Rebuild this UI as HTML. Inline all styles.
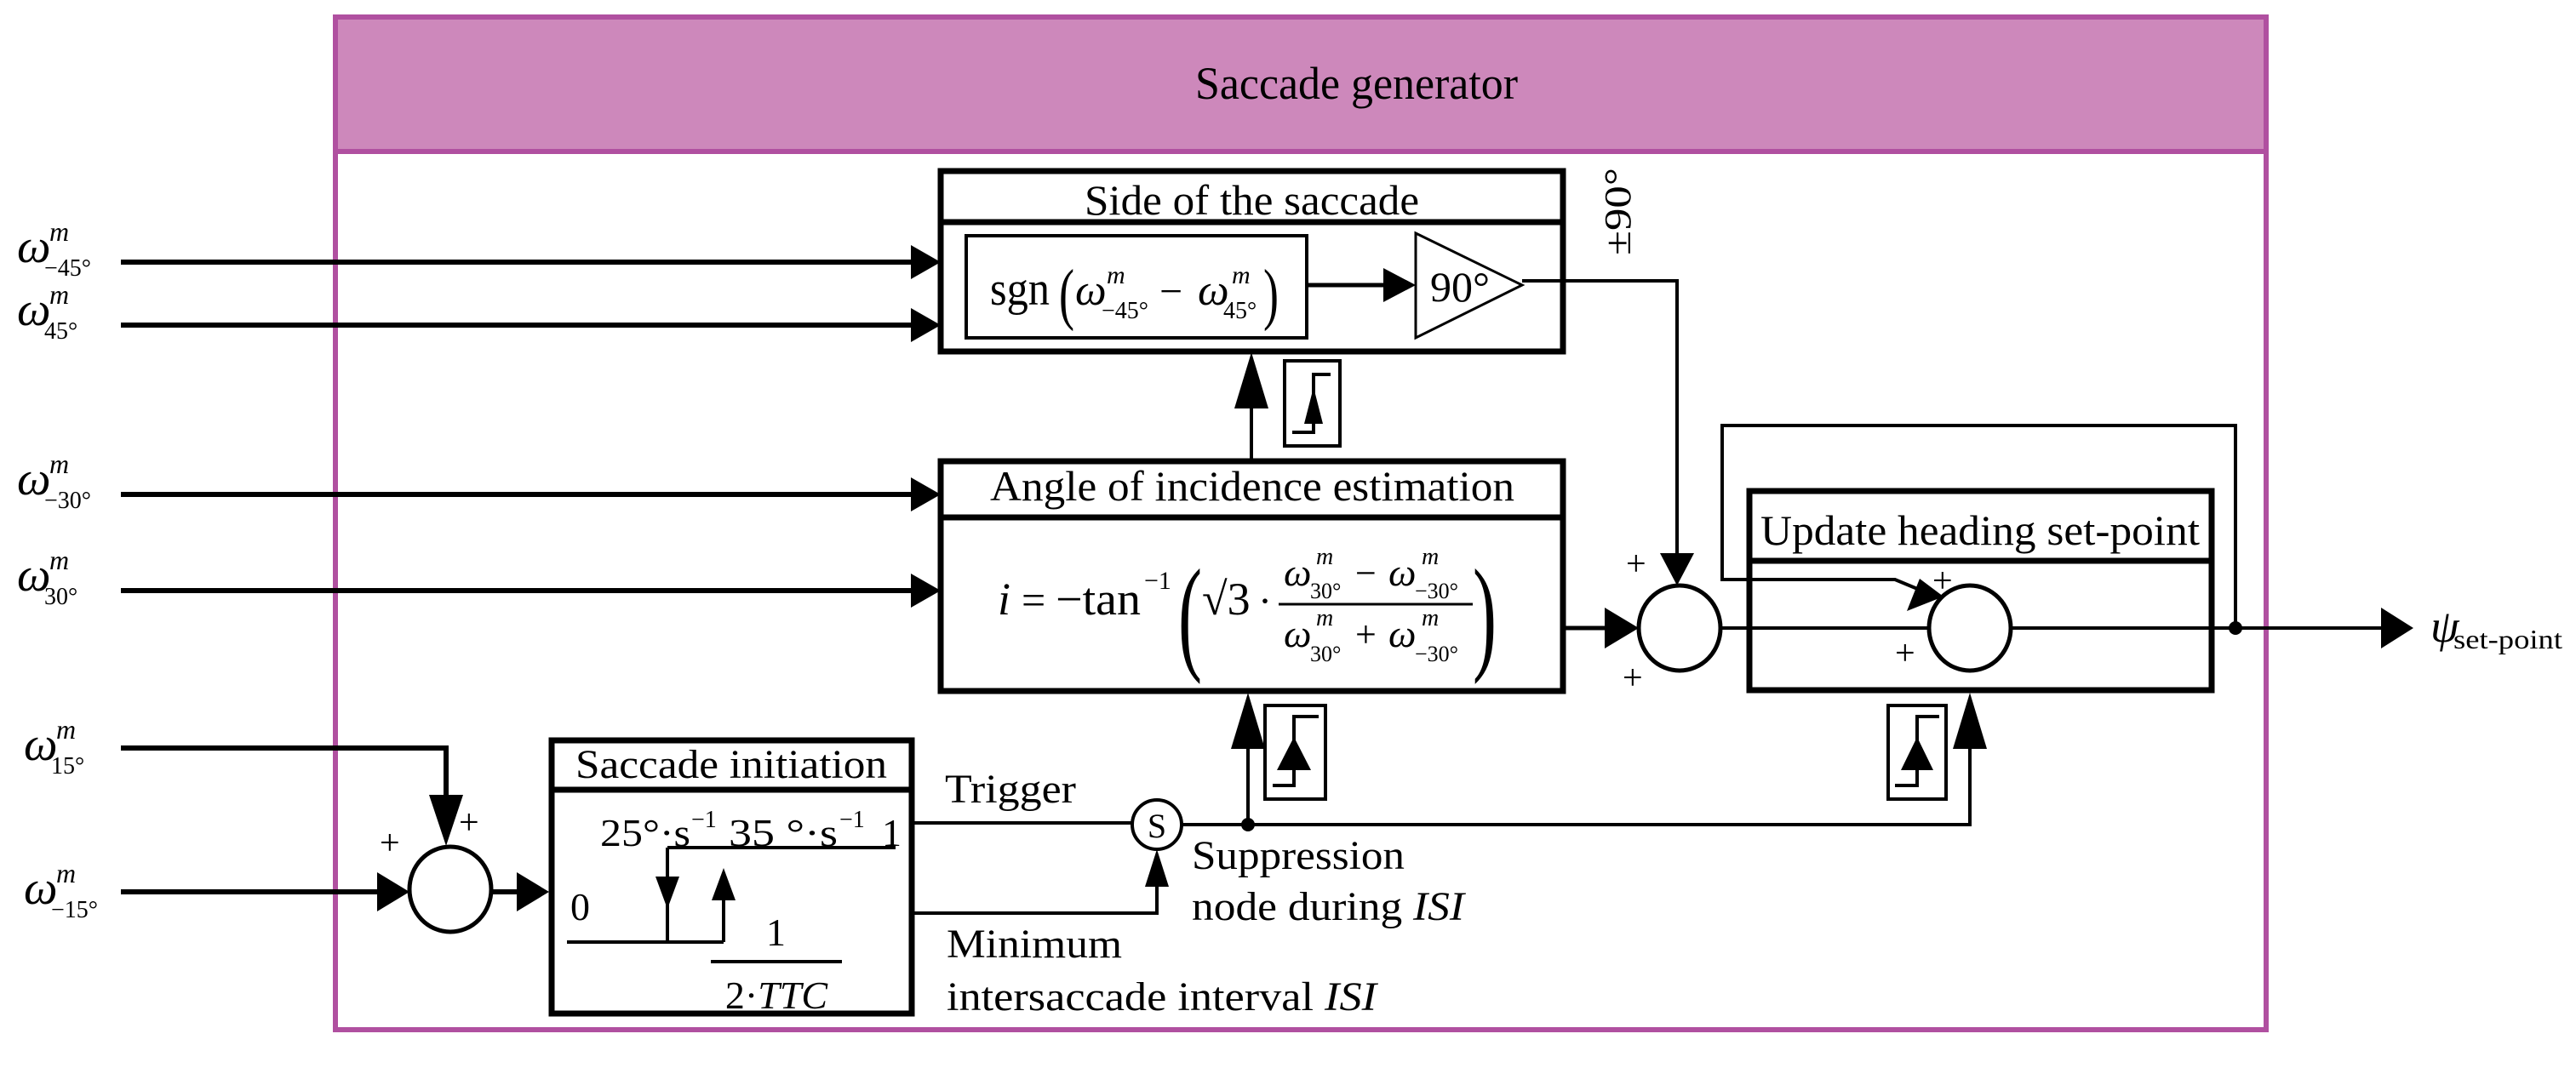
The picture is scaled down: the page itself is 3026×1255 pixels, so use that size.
<!DOCTYPE html>
<html><head><meta charset="utf-8"><style>
html,body{margin:0;padding:0;background:#fff;}
svg{display:block;}
text{font-family:"Liberation Serif",serif;fill:#000;}
.it{font-style:italic;}
</style></head><body>
<svg width="3026" height="1255" viewBox="0 0 3026 1255" xmlns="http://www.w3.org/2000/svg">
<!-- frame -->
<rect x="394" y="20" width="2268" height="1190" fill="#fff" stroke="#b050a0" stroke-width="6"/>
<rect x="394" y="20" width="2268" height="158" fill="#cd88bb" stroke="#b050a0" stroke-width="6"/>
<text x="1404" y="116" font-size="54" textLength="379" lengthAdjust="spacingAndGlyphs">Saccade generator</text>

<g stroke="#000" fill="none">
<line x1="142" y1="308" x2="1075" y2="308" stroke-width="6"/>
<line x1="142" y1="382" x2="1075" y2="382" stroke-width="6"/>
<line x1="142" y1="581" x2="1075" y2="581" stroke-width="6"/>
<line x1="142" y1="694" x2="1075" y2="694" stroke-width="6"/>
<polyline points="142,879 524,879 524,960" stroke-width="6"/>
<line x1="142" y1="1048" x2="450" y2="1048" stroke-width="6"/>
<line x1="577" y1="1048" x2="615" y2="1048" stroke-width="6"/>
<rect x="1105" y="201" width="731" height="212" stroke-width="7"/>
<line x1="1105" y1="261" x2="1836" y2="261" stroke-width="7"/>
<rect x="1135" y="277" width="400" height="120" stroke-width="4"/>
<line x1="1535" y1="335" x2="1630" y2="335" stroke-width="5"/>
<polygon points="1663,274 1788,335 1663,397" stroke-width="3"/>
<polyline points="1788,330 1970,330 1970,655" stroke-width="4"/>
<rect x="1105" y="542" width="731" height="270" stroke-width="7"/>
<line x1="1105" y1="608" x2="1836" y2="608" stroke-width="7"/>
<line x1="1470" y1="540" x2="1470" y2="470" stroke-width="4"/>
<line x1="1836" y1="738" x2="1895" y2="738" stroke-width="5"/>
<ellipse cx="1973" cy="738" rx="48" ry="50" stroke-width="5"/>
<line x1="2021" y1="738" x2="2266" y2="738" stroke-width="4"/>
<ellipse cx="2314" cy="738" rx="48" ry="50" stroke-width="5"/>
<rect x="2055" y="577" width="543" height="234" stroke-width="7"/>
<line x1="2055" y1="659" x2="2598" y2="659" stroke-width="7"/>
<polyline points="2626,738 2626,500 2023,500 2023,681 2226,681 2262,696" stroke-width="4"/>
<line x1="2362" y1="738" x2="2800" y2="738" stroke-width="4"/>
<rect x="648" y="870" width="423" height="321" stroke-width="7"/>
<line x1="648" y1="928" x2="1071" y2="928" stroke-width="7"/>
<line x1="784" y1="996" x2="1052" y2="996" stroke-width="4"/>
<line x1="666" y1="1107" x2="850" y2="1107" stroke-width="4"/>
<line x1="784" y1="996" x2="784" y2="1107" stroke-width="4"/>
<line x1="850" y1="1050" x2="850" y2="1107" stroke-width="4"/>
<line x1="835" y1="1130" x2="989" y2="1130" stroke-width="4"/>
<ellipse cx="529" cy="1045" rx="48" ry="50" stroke-width="5"/>
<line x1="1071" y1="967" x2="1329" y2="967" stroke-width="4"/>
<circle cx="1359" cy="969" r="29" stroke-width="4"/>
<polyline points="1071,1073 1359,1073 1359,1030" stroke-width="4"/>
<polyline points="1388,969 2314,969 2314,880" stroke-width="4"/>
<line x1="1466" y1="969" x2="1466" y2="870" stroke-width="4"/>
<rect x="1509" y="424" width="65" height="100" stroke-width="4"/>
<polyline points="1563,440 1543,440 1543,508 1518,508" stroke-width="4"/>
<rect x="1486" y="829" width="71" height="110" stroke-width="4"/>
<polyline points="1549,842 1520,842 1520,923 1495,923" stroke-width="4"/>
<rect x="2218" y="829" width="68" height="110" stroke-width="4"/>
<polyline points="2278,842 2252,842 2252,923 2226,923" stroke-width="4"/>
</g>
<g fill="#000">
<polygon points="1105,308 1070,288 1070,328"/>
<polygon points="1105,382 1070,362 1070,402"/>
<polygon points="1105,581 1070,561 1070,601"/>
<polygon points="1105,694 1070,674 1070,714"/>
<polygon points="524,994 504,934 544,934"/>
<polygon points="481,1048 443,1025 443,1071"/>
<polygon points="645,1048 607,1025 607,1071"/>
<polygon points="1663,335 1625,315 1625,355"/>
<polygon points="1470,414 1450,480 1490,480"/>
<polygon points="1970,688 1950,650 1990,650"/>
<polygon points="1925,738 1885,714 1885,762"/>
<polygon points="2283,701 2240,718 2255,680"/>
<polygon points="2835,738 2797,714 2797,762"/>
<polygon points="784,1068 770,1030 798,1030"/>
<polygon points="850,1020 836,1058 864,1058"/>
<polygon points="1359,998 1345,1042 1373,1042"/>
<polygon points="1466,814 1446,880 1486,880"/>
<polygon points="2314,814 2294,880 2334,880"/>
<polygon points="1543,455 1532,498 1554,498"/>
<polygon points="1520,866 1500,905 1540,905"/>
<polygon points="2252,866 2233,905 2271,905"/>
<circle cx="1466" cy="969" r="8"/>
<circle cx="2626" cy="738" r="8"/>
</g>

<g>
<text x="20" y="308" font-size="56" class="it">ω</text><text x="58" y="283" font-size="32" class="it">m</text><text x="52" y="324" font-size="28">−45°</text>
<text x="20" y="382" font-size="56" class="it">ω</text><text x="58" y="357" font-size="32" class="it">m</text><text x="52" y="398" font-size="28">45°</text>
<text x="20" y="581" font-size="56" class="it">ω</text><text x="58" y="556" font-size="32" class="it">m</text><text x="52" y="597" font-size="28">−30°</text>
<text x="20" y="694" font-size="56" class="it">ω</text><text x="58" y="669" font-size="32" class="it">m</text><text x="52" y="710" font-size="28">30°</text>
<text x="28" y="893" font-size="56" class="it">ω</text><text x="66" y="868" font-size="32" class="it">m</text><text x="60" y="909" font-size="28">15°</text>
<text x="28" y="1062" font-size="56" class="it">ω</text><text x="66" y="1037" font-size="32" class="it">m</text><text x="60" y="1078" font-size="28">−15°</text>
</g>

<text x="1274" y="252" font-size="50" textLength="393" lengthAdjust="spacingAndGlyphs">Side of the saccade</text>
<text x="1163" y="358" font-size="56" textLength="70" lengthAdjust="spacingAndGlyphs">sgn</text>
<text x="1244" y="372" font-size="80" textLength="18" lengthAdjust="spacingAndGlyphs">(</text>
<text x="1263" y="358" font-size="52" class="it">ω</text><text x="1300" y="333" font-size="30" class="it">m</text><text x="1294" y="374" font-size="28">−45°</text>
<text x="1362" y="358" font-size="48">−</text>
<text x="1407" y="358" font-size="52" class="it">ω</text><text x="1447" y="333" font-size="30" class="it">m</text><text x="1437" y="374" font-size="28">45°</text>
<text x="1484" y="372" font-size="80" textLength="18" lengthAdjust="spacingAndGlyphs">)</text>
<text x="1680" y="354" font-size="50">90°</text>
<text transform="translate(1915,300) rotate(-90)" font-size="44" textLength="103" lengthAdjust="spacingAndGlyphs">±90°</text>

<text x="1163" y="588" font-size="50" textLength="616" lengthAdjust="spacingAndGlyphs">Angle of incidence estimation</text>
<text x="1172" y="722" font-size="54" class="it">i</text>
<text x="1200" y="722" font-size="50">=</text>
<text x="1240" y="722" font-size="54" textLength="100" lengthAdjust="spacingAndGlyphs">−tan</text>
<text x="1344" y="692" font-size="30">−1</text>
<text x="1384" y="772" font-size="150" textLength="28" lengthAdjust="spacingAndGlyphs">(</text>
<text x="1412" y="722" font-size="54">√3</text>
<text x="1478" y="722" font-size="48">·</text>
<line x1="1502" y1="710" x2="1730" y2="710" stroke="#000" stroke-width="3"/>
<text x="1508" y="688" font-size="46" class="it">ω</text><text x="1546" y="663" font-size="28" class="it">m</text><text x="1539" y="703" font-size="26">30°</text>
<text x="1592" y="688" font-size="44">−</text>
<text x="1631" y="688" font-size="46" class="it">ω</text><text x="1670" y="663" font-size="28" class="it">m</text><text x="1662" y="703" font-size="26">−30°</text>
<text x="1508" y="760" font-size="46" class="it">ω</text><text x="1546" y="735" font-size="28" class="it">m</text><text x="1539" y="777" font-size="26">30°</text>
<text x="1592" y="760" font-size="44">+</text>
<text x="1631" y="760" font-size="46" class="it">ω</text><text x="1670" y="735" font-size="28" class="it">m</text><text x="1662" y="777" font-size="26">−30°</text>
<text x="1730" y="772" font-size="150" textLength="28" lengthAdjust="spacingAndGlyphs">)</text>

<text x="2068" y="640" font-size="50" textLength="516" lengthAdjust="spacingAndGlyphs">Update heading set-point</text>

<g font-size="42">
<text x="1910" y="676">+</text>
<text x="1906" y="810">+</text>
<text x="2270" y="696">+</text>
<text x="2226" y="781">+</text>
<text x="446" y="1004">+</text>
<text x="539" y="980">+</text>
</g>
<text x="2855" y="754" font-size="54" class="it">ψ</text>
<text x="2882" y="762" font-size="32" textLength="128" lengthAdjust="spacingAndGlyphs">set-point</text>

<text x="676" y="914" font-size="48" textLength="366" lengthAdjust="spacingAndGlyphs">Saccade initiation</text>
<text x="705" y="994" font-size="46" textLength="106" lengthAdjust="spacingAndGlyphs">25°·s</text><text x="812" y="972" font-size="28">−1</text>
<text x="856" y="994" font-size="46" textLength="128" lengthAdjust="spacingAndGlyphs">35 °·s</text><text x="986" y="972" font-size="28">−1</text>
<text x="1036" y="994" font-size="46">1</text>
<text x="670" y="1081" font-size="46">0</text>
<text x="900" y="1111" font-size="46">1</text>
<text x="912" y="1185" font-size="46" text-anchor="middle">2·<tspan class="it">TTC</tspan></text>

<text x="1110" y="943" font-size="48" textLength="154" lengthAdjust="spacingAndGlyphs">Trigger</text>
<text x="1359" y="984" font-size="40" text-anchor="middle">S</text>
<text x="1400" y="1021" font-size="48" textLength="250" lengthAdjust="spacingAndGlyphs">Suppression</text>
<text x="1400" y="1081" font-size="48" textLength="320" lengthAdjust="spacingAndGlyphs">node during <tspan class="it">ISI</tspan></text>
<text x="1112" y="1125" font-size="48" textLength="206" lengthAdjust="spacingAndGlyphs">Minimum</text>
<text x="1112" y="1187" font-size="48" textLength="505" lengthAdjust="spacingAndGlyphs">intersaccade interval <tspan class="it">ISI</tspan></text>
</svg>
</body></html>
